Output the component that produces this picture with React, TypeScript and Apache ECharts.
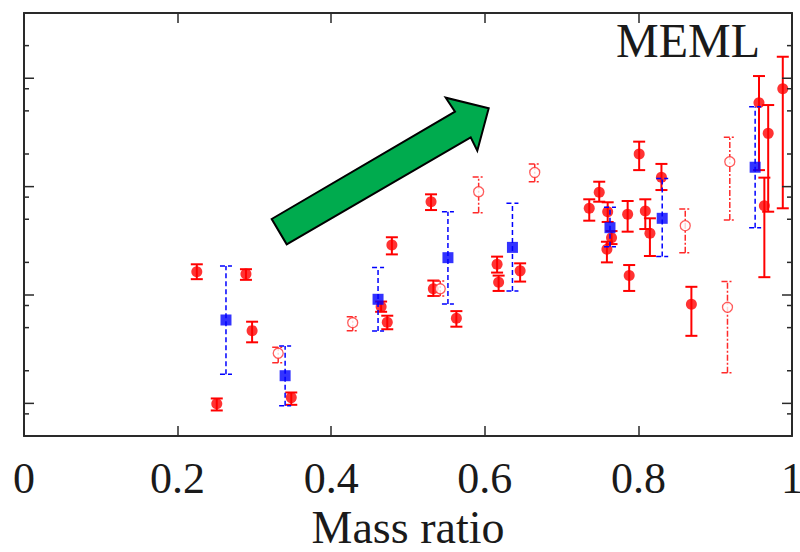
import React, { useEffect, useRef } from "react";
import * as echarts from "echarts";

// x tick labels (mass ratio)
const xTickLabels = ["0", "0.2", "0.4", "0.6", "0.8", "1"];
// y tick values (log axis, unlabeled in the reference)
const yMajorTicks = [1, 10, 100, 1000];
const yMinorTicks = [0.8, 2, 5, 8, 20, 50, 80, 200, 500, 800, 2000];

// [massRatio, value, lower, upper]
const solidPoints = [
  [0.225, 16.4, 14.0, 19.2],
  [0.289, 15.6, 13.8, 17.3],
  [0.297, 4.69, 3.66, 5.67],
  [0.251, 0.99, 0.86, 1.11],
  [0.348, 1.13, 0.97, 1.26],
  [0.465, 7.8, 7.0, 8.7],
  [0.473, 5.6, 4.83, 6.44],
  [0.479, 28.9, 23.7, 34.1],
  [0.53, 72.6, 60.8, 84.9],
  [0.533, 11.4, 9.8, 13.6],
  [0.563, 6.1, 5.1, 7.1],
  [0.616, 19.2, 16.1, 22.6],
  [0.618, 13.1, 10.9, 15.1],
  [0.646, 16.7, 13.3, 19.6],
  [0.736, 63.1, 48.5, 76.4],
  [0.749, 88.6, 72.6, 111],
  [0.76, 58.7, 47.2, 71.7],
  [0.765, 33.8, 29.5, 38.9],
  [0.759, 26.4, 20.0, 31.0],
  [0.786, 55.5, 38.4, 73.7],
  [0.788, 15.1, 10.9, 18.9],
  [0.801, 200, 142, 260],
  [0.809, 59.6, 40.6, 76.4],
  [0.815, 37.1, 22.9, 51.0],
  [0.83, 122, 93, 162],
  [0.869, 8.2, 4.2, 11.9],
  [0.957, 594, 142, 1048],
  [0.969, 310, 58.7, 566],
  [0.964, 66.6, 14.6, 121],
  [0.988, 800, 63.1, 1579],
];

const openPoints = [
  [0.331, 2.9, 2.37, 3.29],
  [0.428, 5.55, 4.69, 6.31],
  [0.542, 11.4, 9.8, 13.5],
  [0.592, 89.7, 57.4, 123],
  [0.665, 135, 111, 162],
  [0.861, 43.6, 24.6, 62.1],
  [0.919, 170, 49.2, 285],
  [0.916, 7.7, 1.92, 13.3],
];

const bluePoints = [
  [0.263, 5.88, 1.86, 18.5],
  [0.34, 1.8, 0.95, 3.38],
  [0.461, 9.13, 4.66, 17.9],
  [0.552, 22.1, 8.26, 58.7],
  [0.636, 27.5, 10.9, 70.2],
  [0.763, 41.8, 27.9, 64.4],
  [0.831, 51.0, 22.6, 119],
  [0.952, 151, 41.8, 546],
];

const FONT = '"Liberation Serif", "DejaVu Serif", serif';

function errorBarSeries(data: number[][], color: string, width: number, dash: number[] | null, z: number) {
  return {
    type: "custom",
    data,
    z,
    dimensions: ["x", "y", "lo", "hi"],
    encode: { x: 0, y: [2, 3] },
    renderItem: (params: any, api: any) => {
      const x = api.value(0);
      const lo = api.coord([x, api.value(2)]);
      const hi = api.coord([x, api.value(3)]);
      const w = 6;
      const style: any = { stroke: color, lineWidth: width, fill: "none" };
      if (dash) style.lineDash = dash;
      return {
        type: "group",
        children: [
          { type: "line", shape: { x1: lo[0], y1: lo[1], x2: hi[0], y2: hi[1] }, style },
          { type: "line", shape: { x1: lo[0] - w, y1: lo[1], x2: lo[0] + w, y2: lo[1] }, style },
          { type: "line", shape: { x1: hi[0] - w, y1: hi[1], x2: hi[0] + w, y2: hi[1] }, style },
        ],
      };
    },
  };
}

export default function App() {
  const ref = useRef<HTMLDivElement>(null);
  useEffect(() => {
    if (!ref.current) return;
    const chart = echarts.init(ref.current, null, { renderer: "svg" });
    const frame = { lineStyle: { color: "#2a2a2a", width: 2 } };
    const yBase = {
      type: "log",
      logBase: 10,
      min: 0.5,
      max: 4000,
      axisLine: { show: true, onZero: false, ...frame },
      axisTick: { show: false },
      axisLabel: { show: false },
      splitLine: { show: false },
    };
    const xBase = {
      type: "value",
      min: 0,
      max: 1,
      interval: 0.2,
      axisLine: { show: true, onZero: false, ...frame },
      axisTick: { show: true, inside: true, length: 10, lineStyle: { color: "#2a2a2a", width: 1.5 } },
      splitLine: { show: false },
    };
    chart.setOption({
      animation: false,
      backgroundColor: "#ffffff",
      grid: { left: 24, right: 8, top: 13, bottom: 116, containLabel: false, outerBoundsMode: "none" },
      xAxis: [
        {
          ...xBase,
          position: "bottom",
          name: "Mass ratio",
          nameLocation: "middle",
          nameGap: 65,
          nameTextStyle: { fontFamily: FONT, fontSize: 46, color: "#1a1a1a" },
          axisLabel: {
            show: true,
            margin: 20,
            fontFamily: FONT,
            fontSize: 44,
            color: "#1a1a1a",
            hideOverlap: false,
            formatter: (v: number) => xTickLabels[Math.round(v / 0.2)] ?? "",
          },
        },
        { ...xBase, position: "top", axisLabel: { show: false } },
      ],
      yAxis: [
        { ...yBase, position: "left" },
        { ...yBase, position: "right" },
      ],
      series: [
        errorBarSeries(solidPoints, "#ff0000", 2, null, 2),
        {
          type: "scatter",
          data: solidPoints.map((p) => [p[0], p[1]]),
          symbol: "circle",
          symbolSize: 11,
          itemStyle: { color: "#ff0000" },
          z: 3,
        },
        errorBarSeries(openPoints, "#ff2a2a", 1.5, [6, 2, 2, 2], 2),
        {
          type: "scatter",
          data: openPoints.map((p) => [p[0], p[1]]),
          symbol: "circle",
          symbolSize: 10,
          itemStyle: { color: "#ffffff", borderColor: "#ff3333", borderWidth: 1.3 },
          z: 3,
        },
        errorBarSeries(bluePoints, "#0000ff", 1.5, [5, 3], 4),
        {
          type: "scatter",
          data: bluePoints.map((p) => [p[0], p[1]]),
          symbol: "rect",
          symbolSize: 11,
          itemStyle: { color: "#0000ff" },
          z: 5,
        },
      ],
    });

    const xl = chart.convertToPixel({ xAxisIndex: 0 }, 0) as number;
    const xr = chart.convertToPixel({ xAxisIndex: 0 }, 1) as number;
    const tickStyle = { stroke: "#2a2a2a", lineWidth: 1.5 };
    const ticks: any[] = [];
    const addTick = (v: number, len: number) => {
      const y = chart.convertToPixel({ yAxisIndex: 0 }, v) as number;
      ticks.push({ type: "line", shape: { x1: xl, y1: y, x2: xl + len, y2: y }, style: tickStyle, z: 10 });
      ticks.push({ type: "line", shape: { x1: xr - len, y1: y, x2: xr, y2: y }, style: tickStyle, z: 10 });
    };
    yMajorTicks.forEach((v) => addTick(v, 10));
    yMinorTicks.forEach((v) => addTick(v, 5));

    chart.setOption({
      graphic: [
        ...ticks,
        {
          type: "polygon",
          shape: {
            points: [
              [271.7, 219],
              [455, 111.7],
              [445.7, 97.7],
              [488.7, 108.3],
              [477.3, 150.7],
              [470.7, 137.3],
              [286.7, 244.3],
            ],
          },
          style: { fill: "#00ab4e", stroke: "#000000", lineWidth: 2 },
          z: 1,
        },
        {
          type: "text",
          x: 688,
          y: 40,
          style: {
            text: "MEML",
            fontFamily: FONT,
            fontSize: 48,
            fill: "#1a1a1a",
            align: "center",
            verticalAlign: "middle",
          },
          z: 10,
        },
      ],
    });
    return () => chart.dispose();
  }, []);
  return (
    <div
      ref={ref}
      style={{ position: "fixed", left: 0, top: 0, width: 800, height: 552, background: "#fff" }}
    />
  );
}
